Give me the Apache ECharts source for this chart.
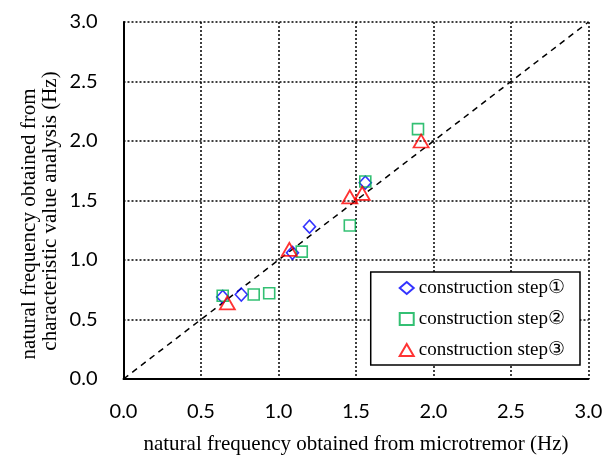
<!DOCTYPE html>
<html><head><meta charset="utf-8">
<script src="https://cdn.jsdelivr.net/npm/echarts@6/dist/echarts.min.js"></script>
<style>html,body{margin:0;padding:0;background:#fff}#c{width:606px;height:455px}</style>
</head><body><div id="c"></div>
<script>
const step1 = [[0.64, 0.69], [0.76, 0.71], [1.09, 1.06], [1.20, 1.28], [1.56, 1.65]];
const step2 = [[0.64, 0.70], [0.84, 0.71], [0.94, 0.72], [1.15, 1.07], [1.46, 1.29], [1.56, 1.66], [1.90, 2.10]];
const step3 = [[0.67, 0.64], [1.07, 1.09], [1.46, 1.53], [1.54, 1.56], [1.92, 2.00]];
const refLine = [[0, 0], [3, 3]];
const names = ['construction step①', 'construction step②', 'construction step③'];
const xTitle = 'natural frequency obtained from microtremor (Hz)';
const yTitle1 = 'natural frequency obtained from';
const yTitle2 = 'characteristic value analysis (Hz)';

const chart = echarts.init(document.getElementById('c'));
const axisCommon = {
  type: 'value', min: 0, max: 3, interval: 0.5,
  axisLine: {show: true, lineStyle: {color: '#000', width: 2}},
  axisTick: {show: false},
  splitLine: {show: true, lineStyle: {color: '#000', type: [2, 2], width: 1.5}},
  axisLabel: {color: '#000', fontFamily: 'Lato', fontSize: 20, formatter: v => v.toFixed(1)},
  nameLocation: 'middle',
  nameTextStyle: {color: '#000', fontFamily: 'Liberation Serif', fontSize: 21}
};
const serifTitle = {fill: '#000', fontFamily: 'Liberation Serif', fontSize: 21, align: 'center', verticalAlign: 'middle'};
chart.setOption({
  animation: false,
  grid: {left: 123.5, right: 17.5, top: 22, bottom: 76, containLabel: false, outerBoundsMode: 'none'},
  xAxis: Object.assign({}, axisCommon, {name: xTitle, nameGap: 55, axisLabel: Object.assign({}, axisCommon.axisLabel, {margin: 23})}),
  yAxis: Object.assign({}, axisCommon, {axisLabel: Object.assign({}, axisCommon.axisLabel, {margin: 26})}),
  graphic: [
    {type: 'text', x: 29, y: 224, rotation: Math.PI / 2, style: Object.assign({text: yTitle1}, serifTitle)},
    {type: 'text', x: 50, y: 211, rotation: Math.PI / 2, style: Object.assign({text: yTitle2}, serifTitle)}
  ],
  legend: {
    orient: 'vertical', right: 26, top: 272,
    backgroundColor: '#fff', borderColor: '#000', borderWidth: 1.5,
    padding: [6, 15, 5, 28], itemGap: 11, itemWidth: 14, itemHeight: 12,
    textStyle: {color: '#000', fontFamily: 'Liberation Serif', fontSize: 19, lineHeight: 20},
    data: names
  },
  series: [
    {type: 'line', data: refLine, symbol: 'none', silent: true, z: 1,
     lineStyle: {color: '#000', width: 1.5, type: [6, 5]}},
    {name: names[0], type: 'scatter', data: step1, symbol: 'diamond', symbolSize: [12, 13],
     itemStyle: {color: 'transparent', borderColor: '#0000ff', borderWidth: 1.6}},
    {name: names[1], type: 'scatter', data: step2, symbol: 'rect', symbolSize: 11,
     itemStyle: {color: 'transparent', borderColor: '#00b050', borderWidth: 1.6}},
    {name: names[2], type: 'scatter', data: step3, symbol: 'triangle', symbolSize: [15, 13],
     itemStyle: {color: 'transparent', borderColor: '#ff0000', borderWidth: 1.8}}
  ]
});
</script></body></html>
